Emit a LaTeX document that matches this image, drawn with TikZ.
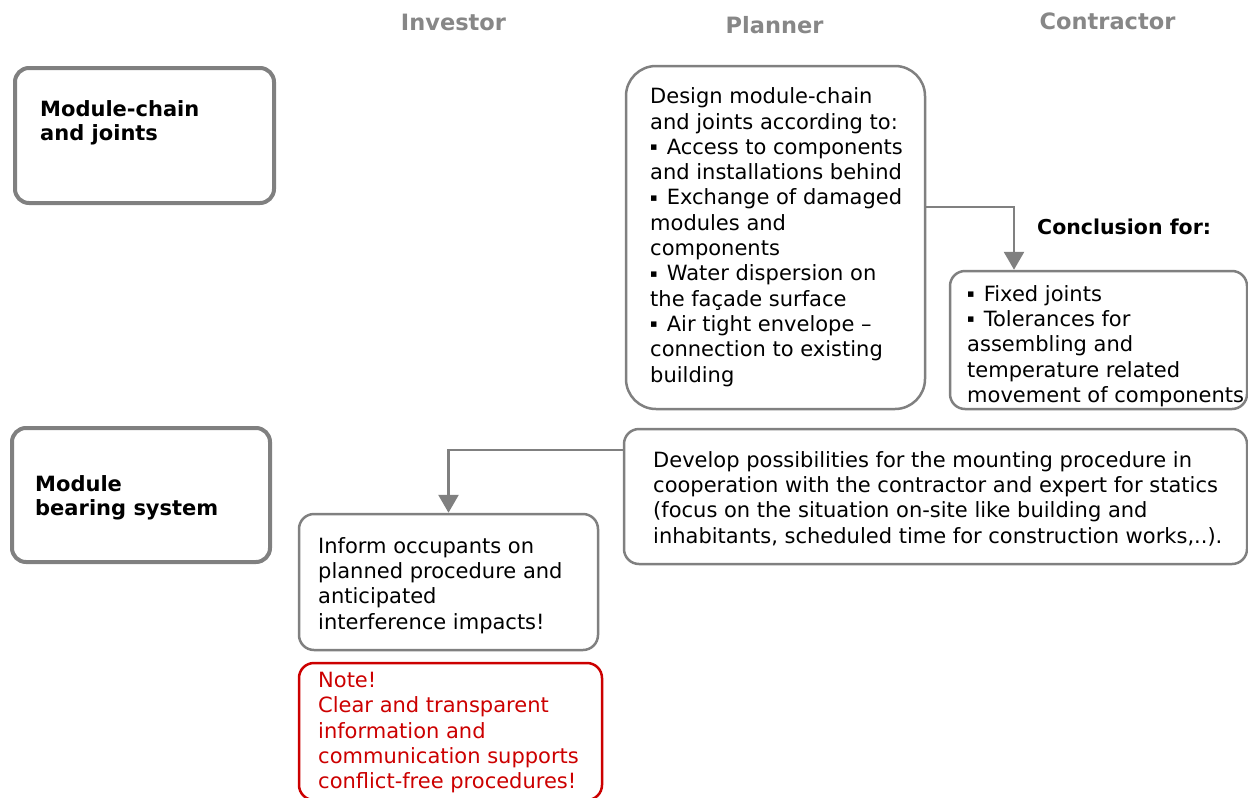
\documentclass[tikz,border=0pt]{standalone}
\usepackage{fontspec}
\setmainfont{DejaVu Sans}
\usepackage{xcolor}
\usetikzlibrary{arrows.meta,positioning}
\definecolor{boxgray}{RGB}{128,128,128}
\definecolor{headgray}{RGB}{135,135,135}
\definecolor{notered}{RGB}{204,0,0}
\tikzset{
  box/.style={draw=boxgray,line width=2.5pt,rounded corners=15pt,inner sep=0pt},
  topic/.style={box,line width=4pt,rounded corners=14pt},   % left column: thick frame
  tall/.style={box,rounded corners=30pt},                    % planner box: big corners
  note/.style={box,draw=notered},                            % red reminder
  txt/.style={anchor=north west,align=left,inner sep=0pt,
              font=\fontsize{21}{25.3}\selectfont},
  ttl/.style={txt,font=\fontsize{21}{24.5}\selectfont\bfseries},
  head/.style={anchor=base,inner sep=0pt,text=headgray,
               font=\fontsize{22.5}{27}\selectfont\bfseries},
  ar/.style={-{Triangle[length=18pt,width=20pt]},draw=boxgray,line width=2.8pt}
}
\newcommand{\blt}{\raisebox{3.5pt}{\fontsize{11}{11}\selectfont ▪}\hspace{2.5pt}}

\begin{document}
\begin{tikzpicture}[x=1pt,y=-1pt]
  \useasboundingbox (0,0) rectangle (1248,798);
  % column heads
  \node[head] (investor) at (453.5,30) {Investor};
  \node[head] (planner) at (774.5,33) {Planner};
  \node[head] (contractor) at (1107.5,29) {Contractor};
  % frames
  \node[topic,minimum width=259pt,minimum height=135pt] (chain) at (144.5,135.5) {};
  \node[topic,minimum width=258pt,minimum height=134pt] (bearing) at (141,495) {};
  \node[tall,minimum width=299pt,minimum height=343pt] (design) at (775.5,237.5) {};
  \node[box,minimum width=297pt,minimum height=138pt] (concl) at (1098.5,340) {};
  \node[box,minimum width=623pt,minimum height=135pt] (develop) at (935.5,496.5) {};
  \node[box,minimum width=299pt,minimum height=136pt] (inform) at (448.5,582) {};
  \node[note,minimum width=303pt,minimum height=137pt] (notebox) at (450.5,731.5) {};
  % texts
  \node[ttl] (chaintxt) at (40,100) {Module-chain\\and joints};
  \node[ttl] (bearingtxt) at (35,475) {Module\\bearing system};
  \node[txt] (designtxt) at (650,87.6)
    {Design module-chain\\and joints according to:\\\blt{} Access to components\\and installations behind\\
     \blt{} Exchange of damaged\\modules and\\components\\\blt{} Water dispersion on\\the façade surface\\
     \blt{} Air tight envelope –\\connection to existing\\building};
  \node[txt] (concltxt) at (967,285)
    {\blt{} Fixed joints\\\blt{} Tolerances for\\assembling and\\temperature related\\movement of components};
  \node[txt] (developtxt) at (653,451)
    {Develop possibilities for the mounting procedure in\\cooperation with the contractor and expert for statics\\
     (focus on the situation on-site like building and\\inhabitants, scheduled time for construction works,..).};
  \node[txt] (informtxt) at (318,537)
    {Inform occupants on\\planned procedure and\\anticipated\\interference impacts!};
  \node[txt,text=notered] (notetxt) at (318,672)
    {Note!\\Clear and transparent\\information and\\communication supports\\conflict-free procedures!};
  \node[anchor=base west,inner sep=0pt,font=\fontsize{20.5}{24}\selectfont\bfseries] (concllbl)
    at (1037,234) {Conclusion for:};
  % connectors
  \draw[ar] ([yshift=30.5pt]design.east) -| ([xshift=-84.5pt]concl.north);
  \draw[ar] ([yshift=46.5pt]develop.west) -| (inform.north);
\end{tikzpicture}
\end{document}
